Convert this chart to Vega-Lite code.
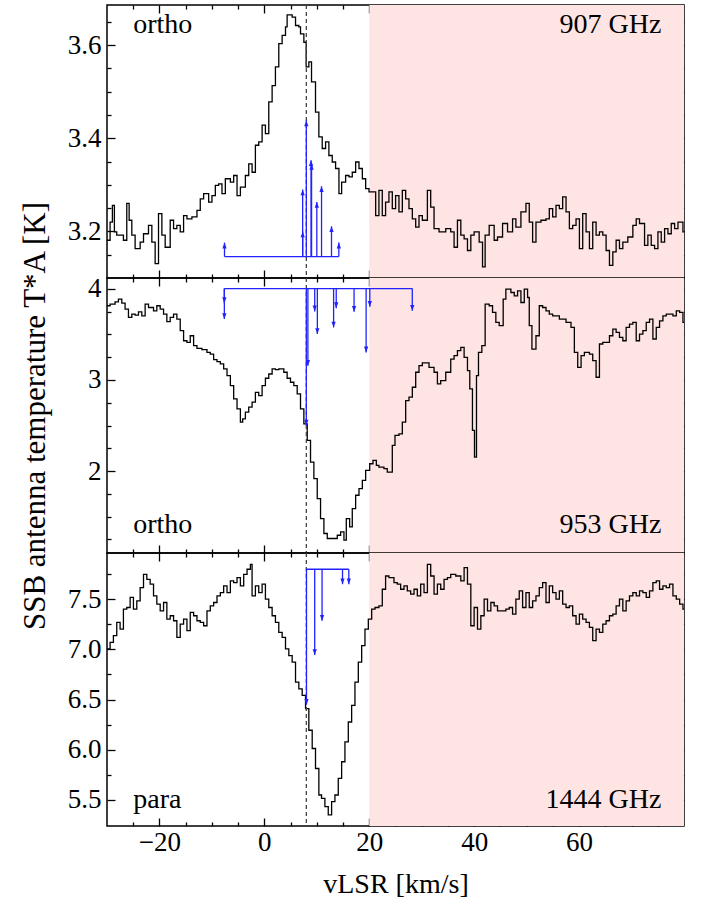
{
  "$schema": "https://vega.github.io/schema/vega-lite/v6.json",
  "padding": {"left": 18, "top": 3, "right": 5, "bottom": 5},
  "bounds": "flush",
  "config": {
    "font": "Liberation Serif",
    "view": {"stroke": "black", "strokeWidth": 1.5},
    "axis": {"domain": false, "grid": false, "tickColor": "black", "tickWidth": 1.3, "labelColor": "black", "labelFontSize": 27, "titleFontSize": 28, "titleFontWeight": "normal", "titleColor": "black", "labelOverlap": false, "labelFont": "Liberation Serif", "titleFont": "Liberation Serif"},
    "text": {"font": "Liberation Serif"}
  },
  "datasets": {
    "s907": [
      {"v": -30, "T": 3.181}, {"v": -29.41, "T": 3.22}, {"v": -28.97, "T": 3.256}, {"v": -28.59, "T": 3.199}, {"v": -28.14, "T": 3.192},
      {"v": -26.87, "T": 3.181}, {"v": -26.23, "T": 3.26}, {"v": -25.78, "T": 3.224}, {"v": -25.27, "T": 3.192}, {"v": -24.64, "T": 3.163},
      {"v": -23.68, "T": 3.177}, {"v": -23.04, "T": 3.195}, {"v": -22.09, "T": 3.213}, {"v": -21.45, "T": 3.177}, {"v": -20.82, "T": 3.131},
      {"v": -20.18, "T": 3.238}, {"v": -19.54, "T": 3.192}, {"v": -18.91, "T": 3.166}, {"v": -17.95, "T": 3.224}, {"v": -17.31, "T": 3.206},
      {"v": -16.68, "T": 3.213}, {"v": -16.04, "T": 3.199}, {"v": -15.4, "T": 3.234}, {"v": -14.76, "T": 3.227}, {"v": -13.81, "T": 3.231},
      {"v": -12.85, "T": 3.245}, {"v": -12.22, "T": 3.27}, {"v": -11.58, "T": 3.281}, {"v": -10.62, "T": 3.263}, {"v": -9.99, "T": 3.277},
      {"v": -9.35, "T": 3.299}, {"v": -8.71, "T": 3.302}, {"v": -8.08, "T": 3.281}, {"v": -7.44, "T": 3.313}, {"v": -6.48, "T": 3.306},
      {"v": -5.85, "T": 3.32}, {"v": -5.21, "T": 3.277}, {"v": -4.57, "T": 3.295}, {"v": -3.62, "T": 3.32}, {"v": -2.98, "T": 3.345},
      {"v": -2.34, "T": 3.327}, {"v": -1.71, "T": 3.385}, {"v": -1.07, "T": 3.392}, {"v": -0.43, "T": 3.428}, {"v": 0.2, "T": 3.41},
      {"v": 0.84, "T": 3.478}, {"v": 1.48, "T": 3.513}, {"v": 2.11, "T": 3.553}, {"v": 2.75, "T": 3.603}, {"v": 3.39, "T": 3.621},
      {"v": 4.03, "T": 3.639}, {"v": 4.34, "T": 3.665}, {"v": 5.3, "T": 3.66}, {"v": 5.94, "T": 3.642}, {"v": 6.57, "T": 3.639},
      {"v": 6.89, "T": 3.624}, {"v": 7.53, "T": 3.606}, {"v": 7.97, "T": 3.553}, {"v": 8.48, "T": 3.564}, {"v": 8.99, "T": 3.521},
      {"v": 9.75, "T": 3.456}, {"v": 10.39, "T": 3.403}, {"v": 11.03, "T": 3.378}, {"v": 11.67, "T": 3.392}, {"v": 12.3, "T": 3.363},
      {"v": 12.94, "T": 3.349}, {"v": 13.58, "T": 3.335}, {"v": 14.22, "T": 3.281}, {"v": 14.73, "T": 3.306}, {"v": 15.49, "T": 3.32},
      {"v": 16.13, "T": 3.317}, {"v": 16.76, "T": 3.327}, {"v": 17.4, "T": 3.349}, {"v": 18.04, "T": 3.335}, {"v": 18.68, "T": 3.313},
      {"v": 19.31, "T": 3.292}, {"v": 19.95, "T": 3.285}, {"v": 21.22, "T": 3.234}, {"v": 21.84, "T": 3.288}, {"v": 22.48, "T": 3.234},
      {"v": 23.11, "T": 3.263}, {"v": 23.75, "T": 3.285}, {"v": 24.39, "T": 3.249}, {"v": 25.02, "T": 3.277}, {"v": 25.66, "T": 3.242},
      {"v": 26.3, "T": 3.288}, {"v": 26.94, "T": 3.27}, {"v": 27.57, "T": 3.249}, {"v": 28.21, "T": 3.227}, {"v": 28.85, "T": 3.209},
      {"v": 29.48, "T": 3.234}, {"v": 30.12, "T": 3.224}, {"v": 31.08, "T": 3.288}, {"v": 31.71, "T": 3.252}, {"v": 32.35, "T": 3.206},
      {"v": 33.3, "T": 3.199}, {"v": 34.58, "T": 3.206}, {"v": 35.53, "T": 3.199}, {"v": 36.17, "T": 3.166}, {"v": 36.81, "T": 3.224},
      {"v": 37.45, "T": 3.192}, {"v": 38.08, "T": 3.184}, {"v": 38.72, "T": 3.159}, {"v": 39.36, "T": 3.192}, {"v": 39.99, "T": 3.199},
      {"v": 40.95, "T": 3.177}, {"v": 41.59, "T": 3.124}, {"v": 42.09, "T": 3.192}, {"v": 42.86, "T": 3.213}, {"v": 43.81, "T": 3.181},
      {"v": 44.45, "T": 3.188}, {"v": 45.41, "T": 3.217}, {"v": 46.36, "T": 3.199}, {"v": 47.32, "T": 3.227}, {"v": 47.95, "T": 3.209},
      {"v": 48.91, "T": 3.242}, {"v": 49.87, "T": 3.26}, {"v": 50.5, "T": 3.22}, {"v": 51.14, "T": 3.177}, {"v": 51.78, "T": 3.22},
      {"v": 52.73, "T": 3.224}, {"v": 53.69, "T": 3.227}, {"v": 54.32, "T": 3.249}, {"v": 54.96, "T": 3.231}, {"v": 55.6, "T": 3.256},
      {"v": 56.24, "T": 3.249}, {"v": 56.87, "T": 3.274}, {"v": 57.51, "T": 3.242}, {"v": 58.15, "T": 3.206}, {"v": 58.78, "T": 3.213},
      {"v": 59.42, "T": 3.227}, {"v": 60.06, "T": 3.163}, {"v": 60.69, "T": 3.238}, {"v": 61.33, "T": 3.199}, {"v": 61.97, "T": 3.163},
      {"v": 62.6, "T": 3.22}, {"v": 63.24, "T": 3.192}, {"v": 63.88, "T": 3.199}, {"v": 64.52, "T": 3.192}, {"v": 65.15, "T": 3.159},
      {"v": 65.79, "T": 3.127}, {"v": 66.43, "T": 3.156}, {"v": 67.06, "T": 3.181}, {"v": 67.7, "T": 3.163}, {"v": 68.34, "T": 3.177},
      {"v": 69.29, "T": 3.188}, {"v": 70.25, "T": 3.213}, {"v": 70.89, "T": 3.227}, {"v": 71.52, "T": 3.217}, {"v": 72.48, "T": 3.17},
      {"v": 73.11, "T": 3.192}, {"v": 73.75, "T": 3.17}, {"v": 74.39, "T": 3.163}, {"v": 75.03, "T": 3.199}, {"v": 75.66, "T": 3.177},
      {"v": 76.3, "T": 3.206}, {"v": 76.94, "T": 3.195}, {"v": 77.57, "T": 3.217}, {"v": 78.21, "T": 3.206}, {"v": 78.85, "T": 3.22},
      {"v": 79.8, "T": 3.199}, {"v": 80, "T": 3.199}
    ],
    "s953": [
      {"v": -30, "T": 3.815}, {"v": -29.41, "T": 3.833}, {"v": -28.46, "T": 3.858}, {"v": -27.82, "T": 3.888}, {"v": -27.18, "T": 3.844},
      {"v": -26.55, "T": 3.778}, {"v": -25.91, "T": 3.687}, {"v": -25.27, "T": 3.723}, {"v": -24.64, "T": 3.712}, {"v": -24.0, "T": 3.749},
      {"v": -23.36, "T": 3.705}, {"v": -22.73, "T": 3.833}, {"v": -22.09, "T": 3.796}, {"v": -21.13, "T": 3.76}, {"v": -20.5, "T": 3.815},
      {"v": -19.86, "T": 3.778}, {"v": -19.22, "T": 3.723}, {"v": -18.59, "T": 3.64}, {"v": -17.95, "T": 3.687}, {"v": -17.31, "T": 3.723},
      {"v": -16.68, "T": 3.669}, {"v": -16.04, "T": 3.541}, {"v": -15.4, "T": 3.431}, {"v": -14.76, "T": 3.413}, {"v": -14.13, "T": 3.486},
      {"v": -13.49, "T": 3.377}, {"v": -12.85, "T": 3.347}, {"v": -11.9, "T": 3.333}, {"v": -10.94, "T": 3.303}, {"v": -10.31, "T": 3.285},
      {"v": -9.67, "T": 3.223}, {"v": -9.03, "T": 3.201}, {"v": -8.39, "T": 3.176}, {"v": -7.76, "T": 3.121}, {"v": -7.12, "T": 3.048},
      {"v": -6.48, "T": 2.938}, {"v": -5.85, "T": 2.792}, {"v": -5.21, "T": 2.683}, {"v": -4.57, "T": 2.537}, {"v": -4.13, "T": 2.573},
      {"v": -3.62, "T": 2.646}, {"v": -2.98, "T": 2.701}, {"v": -2.34, "T": 2.756}, {"v": -1.71, "T": 2.865}, {"v": -1.07, "T": 2.829},
      {"v": -0.43, "T": 2.938}, {"v": 0.2, "T": 3.019}, {"v": 0.84, "T": 3.066}, {"v": 1.48, "T": 3.121}, {"v": 2.11, "T": 3.114},
      {"v": 2.75, "T": 3.121}, {"v": 3.71, "T": 3.085}, {"v": 4.34, "T": 3.019}, {"v": 4.98, "T": 2.975}, {"v": 5.62, "T": 2.938},
      {"v": 6.26, "T": 2.847}, {"v": 6.89, "T": 2.683}, {"v": 7.53, "T": 2.519}, {"v": 8.17, "T": 2.336}, {"v": 8.8, "T": 2.099},
      {"v": 9.44, "T": 1.916}, {"v": 10.08, "T": 1.697}, {"v": 10.71, "T": 1.478}, {"v": 11.35, "T": 1.314}, {"v": 11.99, "T": 1.259},
      {"v": 12.94, "T": 1.259}, {"v": 13.9, "T": 1.295}, {"v": 14.54, "T": 1.332}, {"v": 15.17, "T": 1.241}, {"v": 15.62, "T": 1.478},
      {"v": 16.26, "T": 1.387}, {"v": 16.76, "T": 1.588}, {"v": 17.4, "T": 1.734}, {"v": 18.04, "T": 1.807}, {"v": 18.68, "T": 1.898},
      {"v": 19.31, "T": 2.007}, {"v": 20.08, "T": 2.08}, {"v": 20.71, "T": 2.117}, {"v": 21.35, "T": 2.062}, {"v": 21.84, "T": 2.044},
      {"v": 22.8, "T": 2.026}, {"v": 23.43, "T": 1.989}, {"v": 24.39, "T": 2.281}, {"v": 24.9, "T": 2.391}, {"v": 25.66, "T": 2.409},
      {"v": 26.3, "T": 2.537}, {"v": 26.94, "T": 2.774}, {"v": 27.57, "T": 2.811}, {"v": 28.21, "T": 2.92}, {"v": 28.85, "T": 3.085},
      {"v": 29.48, "T": 3.157}, {"v": 30.12, "T": 3.187}, {"v": 31.39, "T": 3.139}, {"v": 32.35, "T": 3.085}, {"v": 32.99, "T": 2.957},
      {"v": 33.62, "T": 2.993}, {"v": 34.58, "T": 3.085}, {"v": 35.53, "T": 3.23}, {"v": 36.17, "T": 3.267}, {"v": 36.81, "T": 3.322},
      {"v": 37.45, "T": 3.358}, {"v": 38.08, "T": 3.249}, {"v": 38.72, "T": 3.103}, {"v": 39.16, "T": 2.902}, {"v": 39.67, "T": 2.446},
      {"v": 40.06, "T": 2.153}, {"v": 40.44, "T": 3.048}, {"v": 40.82, "T": 3.303}, {"v": 41.46, "T": 3.377}, {"v": 42.09, "T": 3.833},
      {"v": 42.86, "T": 3.815}, {"v": 43.5, "T": 3.742}, {"v": 44.13, "T": 3.632}, {"v": 44.77, "T": 3.596}, {"v": 45.53, "T": 3.888},
      {"v": 46.04, "T": 3.997}, {"v": 47.0, "T": 3.961}, {"v": 47.64, "T": 3.924}, {"v": 48.27, "T": 3.979}, {"v": 48.91, "T": 3.851},
      {"v": 49.55, "T": 3.997}, {"v": 50.18, "T": 3.906}, {"v": 50.5, "T": 3.596}, {"v": 51.01, "T": 3.34}, {"v": 51.78, "T": 3.486},
      {"v": 52.41, "T": 3.815}, {"v": 53.05, "T": 3.796}, {"v": 53.69, "T": 3.76}, {"v": 54.32, "T": 3.723}, {"v": 54.96, "T": 3.705},
      {"v": 56.24, "T": 3.669}, {"v": 57.51, "T": 3.632}, {"v": 58.46, "T": 3.577}, {"v": 59.1, "T": 3.303}, {"v": 59.74, "T": 3.139},
      {"v": 60.38, "T": 3.267}, {"v": 61.01, "T": 3.303}, {"v": 61.97, "T": 3.285}, {"v": 62.6, "T": 3.212}, {"v": 63.24, "T": 3.03},
      {"v": 63.88, "T": 3.395}, {"v": 64.52, "T": 3.413}, {"v": 65.79, "T": 3.486}, {"v": 66.43, "T": 3.559}, {"v": 67.06, "T": 3.523},
      {"v": 67.7, "T": 3.468}, {"v": 68.34, "T": 3.431}, {"v": 68.97, "T": 3.577}, {"v": 69.61, "T": 3.614}, {"v": 70.25, "T": 3.632},
      {"v": 70.89, "T": 3.431}, {"v": 71.52, "T": 3.504}, {"v": 72.16, "T": 3.541}, {"v": 72.8, "T": 3.632}, {"v": 73.43, "T": 3.669},
      {"v": 74.07, "T": 3.45}, {"v": 74.71, "T": 3.577}, {"v": 75.34, "T": 3.65}, {"v": 75.98, "T": 3.705}, {"v": 76.62, "T": 3.723},
      {"v": 77.89, "T": 3.705}, {"v": 78.53, "T": 3.76}, {"v": 79.17, "T": 3.742}, {"v": 79.8, "T": 3.632}, {"v": 80, "T": 3.632}
    ],
    "s1444": [
      {"v": -30, "T": 7.004}, {"v": -29.41, "T": 7.07}, {"v": -28.78, "T": 7.136}, {"v": -28.14, "T": 7.269}, {"v": -27.5, "T": 7.202},
      {"v": -26.87, "T": 7.401}, {"v": -26.23, "T": 7.417}, {"v": -25.59, "T": 7.517}, {"v": -24.96, "T": 7.401}, {"v": -24.32, "T": 7.483},
      {"v": -23.68, "T": 7.616}, {"v": -23.04, "T": 7.748}, {"v": -22.41, "T": 7.698}, {"v": -21.77, "T": 7.649}, {"v": -21.13, "T": 7.533},
      {"v": -20.5, "T": 7.45}, {"v": -19.86, "T": 7.384}, {"v": -19.22, "T": 7.467}, {"v": -18.59, "T": 7.302}, {"v": -17.95, "T": 7.335},
      {"v": -17.31, "T": 7.285}, {"v": -16.68, "T": 7.12}, {"v": -16.04, "T": 7.252}, {"v": -15.4, "T": 7.302}, {"v": -14.76, "T": 7.186},
      {"v": -14.13, "T": 7.368}, {"v": -13.49, "T": 7.335}, {"v": -12.85, "T": 7.285}, {"v": -12.22, "T": 7.269}, {"v": -11.58, "T": 7.235},
      {"v": -10.94, "T": 7.384}, {"v": -10.31, "T": 7.434}, {"v": -9.67, "T": 7.467}, {"v": -9.03, "T": 7.533}, {"v": -8.39, "T": 7.566},
      {"v": -7.76, "T": 7.632}, {"v": -7.12, "T": 7.566}, {"v": -6.48, "T": 7.682}, {"v": -5.85, "T": 7.665}, {"v": -5.21, "T": 7.715},
      {"v": -4.57, "T": 7.632}, {"v": -3.94, "T": 7.748}, {"v": -3.3, "T": 7.798}, {"v": -2.66, "T": 7.847}, {"v": -2.34, "T": 7.533},
      {"v": -1.71, "T": 7.632}, {"v": -1.07, "T": 7.566}, {"v": -0.43, "T": 7.649}, {"v": 0.2, "T": 7.5}, {"v": 0.84, "T": 7.417},
      {"v": 1.48, "T": 7.335}, {"v": 2.11, "T": 7.269}, {"v": 2.75, "T": 7.169}, {"v": 3.39, "T": 7.12}, {"v": 4.03, "T": 7.004},
      {"v": 4.66, "T": 6.938}, {"v": 5.3, "T": 6.872}, {"v": 5.94, "T": 6.673}, {"v": 6.57, "T": 6.607}, {"v": 7.21, "T": 6.541},
      {"v": 7.85, "T": 6.409}, {"v": 8.48, "T": 6.194}, {"v": 9.12, "T": 6.012}, {"v": 9.75, "T": 5.813}, {"v": 10.39, "T": 5.549},
      {"v": 10.9, "T": 5.516}, {"v": 11.54, "T": 5.433}, {"v": 12.18, "T": 5.35}, {"v": 12.82, "T": 5.483}, {"v": 13.45, "T": 5.549},
      {"v": 14.09, "T": 5.714}, {"v": 14.73, "T": 5.88}, {"v": 15.36, "T": 6.078}, {"v": 16.0, "T": 6.276}, {"v": 16.64, "T": 6.442},
      {"v": 17.27, "T": 6.673}, {"v": 17.91, "T": 6.872}, {"v": 18.55, "T": 7.037}, {"v": 19.18, "T": 7.202}, {"v": 19.82, "T": 7.302},
      {"v": 20.46, "T": 7.401}, {"v": 21.1, "T": 7.417}, {"v": 21.84, "T": 7.434}, {"v": 22.48, "T": 7.599}, {"v": 23.11, "T": 7.731},
      {"v": 23.75, "T": 7.715}, {"v": 24.71, "T": 7.665}, {"v": 25.34, "T": 7.649}, {"v": 25.98, "T": 7.599}, {"v": 26.62, "T": 7.632},
      {"v": 27.25, "T": 7.583}, {"v": 27.89, "T": 7.55}, {"v": 28.53, "T": 7.599}, {"v": 29.16, "T": 7.533}, {"v": 29.8, "T": 7.649},
      {"v": 30.44, "T": 7.566}, {"v": 31.08, "T": 7.847}, {"v": 31.71, "T": 7.731}, {"v": 32.35, "T": 7.55}, {"v": 32.99, "T": 7.649},
      {"v": 33.62, "T": 7.599}, {"v": 34.26, "T": 7.698}, {"v": 34.9, "T": 7.715}, {"v": 35.53, "T": 7.748}, {"v": 36.49, "T": 7.731},
      {"v": 37.45, "T": 7.682}, {"v": 38.08, "T": 7.814}, {"v": 38.72, "T": 7.649}, {"v": 39.36, "T": 7.235}, {"v": 39.99, "T": 7.417},
      {"v": 40.63, "T": 7.202}, {"v": 41.27, "T": 7.335}, {"v": 41.9, "T": 7.5}, {"v": 42.54, "T": 7.384}, {"v": 43.18, "T": 7.467},
      {"v": 43.81, "T": 7.434}, {"v": 44.45, "T": 7.384}, {"v": 46.04, "T": 7.401}, {"v": 46.68, "T": 7.417}, {"v": 47.32, "T": 7.351},
      {"v": 47.95, "T": 7.5}, {"v": 48.59, "T": 7.583}, {"v": 49.23, "T": 7.417}, {"v": 49.87, "T": 7.566}, {"v": 50.5, "T": 7.417},
      {"v": 51.14, "T": 7.483}, {"v": 51.78, "T": 7.533}, {"v": 52.41, "T": 7.616}, {"v": 53.05, "T": 7.665}, {"v": 53.69, "T": 7.467},
      {"v": 54.32, "T": 7.632}, {"v": 54.96, "T": 7.566}, {"v": 55.6, "T": 7.5}, {"v": 56.24, "T": 7.583}, {"v": 56.87, "T": 7.45},
      {"v": 57.51, "T": 7.417}, {"v": 58.15, "T": 7.434}, {"v": 58.78, "T": 7.335}, {"v": 59.42, "T": 7.252}, {"v": 60.06, "T": 7.351},
      {"v": 60.69, "T": 7.302}, {"v": 61.33, "T": 7.269}, {"v": 61.97, "T": 7.219}, {"v": 62.6, "T": 7.087}, {"v": 63.24, "T": 7.202},
      {"v": 63.88, "T": 7.169}, {"v": 64.52, "T": 7.252}, {"v": 65.15, "T": 7.285}, {"v": 65.79, "T": 7.335}, {"v": 66.43, "T": 7.351},
      {"v": 67.06, "T": 7.434}, {"v": 67.7, "T": 7.5}, {"v": 68.34, "T": 7.384}, {"v": 68.97, "T": 7.483}, {"v": 69.61, "T": 7.533},
      {"v": 70.25, "T": 7.566}, {"v": 70.89, "T": 7.533}, {"v": 71.52, "T": 7.583}, {"v": 72.16, "T": 7.566}, {"v": 72.8, "T": 7.517},
      {"v": 73.43, "T": 7.583}, {"v": 74.07, "T": 7.665}, {"v": 74.71, "T": 7.682}, {"v": 75.34, "T": 7.599}, {"v": 75.98, "T": 7.632},
      {"v": 76.62, "T": 7.616}, {"v": 77.25, "T": 7.649}, {"v": 77.89, "T": 7.533}, {"v": 78.53, "T": 7.5}, {"v": 79.17, "T": 7.45},
      {"v": 79.8, "T": 7.401}, {"v": 80, "T": 7.401}
    ],
    "h907": [
      {"v": -7.6, "top": 3.176, "base": 3.146}, {"v": 7.3, "top": 3.29, "base": 3.146}, {"v": 7.3, "top": 3.2, "base": 3.146},
      {"v": 8.0, "top": 3.438, "base": 3.146}, {"v": 8.9, "top": 3.353, "base": 3.146}, {"v": 9.0, "top": 3.345, "base": 3.146},
      {"v": 10.0, "top": 3.263, "base": 3.146}, {"v": 10.9, "top": 3.297, "base": 3.146}, {"v": 12.8, "top": 3.211, "base": 3.146},
      {"v": 14.2, "top": 3.176, "base": 3.146}
    ],
    "h953": [
      {"v": -7.63, "top": 3.844, "base": 4.004}, {"v": -7.63, "top": 3.669, "base": 4.004}, {"v": 8.0, "top": 2.5, "base": 4.004},
      {"v": 8.3, "top": 3.157, "base": 4.004}, {"v": 9.6, "top": 3.753, "base": 4.004}, {"v": 10.1, "top": 3.504, "base": 4.004},
      {"v": 13.2, "top": 3.577, "base": 4.004}, {"v": 13.7, "top": 3.789, "base": 4.004}, {"v": 17.1, "top": 3.749, "base": 4.004},
      {"v": 19.4, "top": 3.303, "base": 4.004}, {"v": 20.1, "top": 3.804, "base": 4.004}, {"v": 28.2, "top": 3.76, "base": 4.004}
    ],
    "h1444": [
      {"v": 8.03, "top": 6.448, "base": 7.798}, {"v": 9.6, "top": 6.944, "base": 7.798}, {"v": 11.0, "top": 7.285, "base": 7.798},
      {"v": 14.9, "top": 7.649, "base": 7.798}, {"v": 16.1, "top": 7.649, "base": 7.798}
    ]
  },
  "spacing": 0,
  "vconcat": [
    {
      "width": 577, "height": 273,
      "resolve": {"axis": {"x": "independent", "y": "independent"}},
      "layer": [
        {
          "data": {"values": [{}]},
          "mark": {"type": "rect", "color": "#fee4e2"},
          "encoding": {
            "x": {"datum": 20, "type": "quantitative", "scale": {"domain": [-30, 80], "nice": false, "zero": false},
              "axis": {"orient": "bottom", "values": [-25,-20,-15,-10,-5,0,5,10,15,20,25,30,35,40,45,50,55,60,65,70,75], "tickSize": {"condition": {"test": "datum.value % 20 === 0", "value": -8}, "value": -4}, "labels": false, "title": null}},
            "x2": {"datum": 80},
            "y": {"datum": 3.1, "type": "quantitative", "scale": {"domain": [3.1, 3.686], "nice": false, "zero": false},
              "axis": {"orient": "left", "values": [3.15,3.2,3.25,3.3,3.35,3.4,3.45,3.5,3.55,3.6,3.65], "tickSize": {"condition": {"test": "round(datum.value*100) % 20 === 0", "value": -8}, "value": -4}, "labelExpr": "round(datum.value*100) % 20 === 0 ? format(datum.value, '.1f') : ''", "labelPadding": 14, "title": null}},
            "y2": {"datum": 3.686}
          }
        },
        {
          "data": {"name": "s907"},
          "mark": {"type": "line", "interpolate": "step-after", "color": "black", "strokeWidth": 1.3, "clip": true},
          "encoding": {
            "x": {"field": "v", "type": "quantitative", "scale": {"domain": [-30, 80], "nice": false, "zero": false},
              "axis": {"orient": "top", "values": [-25,-20,-15,-10,-5,0,5,10,15,20,25,30,35,40,45,50,55,60,65,70,75], "tickSize": {"condition": {"test": "datum.value % 20 === 0", "value": -8}, "value": -4}, "labels": false, "title": null}},
            "y": {"field": "T", "type": "quantitative", "scale": {"domain": [3.1, 3.686], "nice": false, "zero": false},
              "axis": {"orient": "right", "values": [3.15,3.2,3.25,3.3,3.35,3.4,3.45,3.5,3.55,3.6,3.65], "tickSize": {"condition": {"test": "round(datum.value*100) % 20 === 0", "value": -8}, "value": -4}, "labels": false, "title": null}}
          }
        },
        {
          "data": {"values": [{}]},
          "mark": {"type": "rule", "color": "#444444", "strokeWidth": 1.3, "strokeDash": [4, 3]},
          "encoding": {"x": {"datum": 8, "type": "quantitative", "axis": null}}
        },
        {
          "data": {"name": "h907"},
          "mark": {"type": "rule", "color": "#2222ff", "strokeWidth": 1.3},
          "encoding": {
            "x": {"aggregate": "min", "field": "v", "type": "quantitative", "axis": null},
            "x2": {"aggregate": "max", "field": "v"},
            "y": {"aggregate": "mean", "field": "base", "type": "quantitative", "axis": null}
          }
        },
        {
          "data": {"name": "h907"},
          "mark": {"type": "rule", "color": "#2222ff", "strokeWidth": 1.3},
          "encoding": {
            "x": {"field": "v", "type": "quantitative", "axis": null},
            "y": {"field": "base", "type": "quantitative", "axis": null},
            "y2": {"field": "top"}
          }
        },
        {
          "data": {"name": "h907"},
          "mark": {"type": "point", "shape": "M0,0L-0.55,1.5L0.55,1.5Z", "filled": true, "color": "#2222ff", "opacity": 1, "size": 60},
          "encoding": {
            "x": {"field": "v", "type": "quantitative", "axis": null},
            "y": {"field": "top", "type": "quantitative", "axis": null}
          }
        },
        {
          "data": {"values": [{}]},
          "mark": {"type": "text", "align": "left", "baseline": "alphabetic", "fontSize": 28, "color": "black", "text": "ortho"},
          "encoding": {"x": {"datum": -25, "type": "quantitative", "axis": null}, "y": {"datum": 3.625, "type": "quantitative", "axis": null}}
        },
        {
          "data": {"values": [{}]},
          "mark": {"type": "text", "align": "right", "baseline": "alphabetic", "fontSize": 28, "color": "black", "text": "907 GHz"},
          "encoding": {"x": {"datum": 75.7, "type": "quantitative", "axis": null}, "y": {"datum": 3.625, "type": "quantitative", "axis": null}}
        }
      ]
    },
    {
      "width": 577, "height": 275,
      "resolve": {"axis": {"x": "independent", "y": "independent"}},
      "layer": [
        {
          "data": {"values": [{}]},
          "mark": {"type": "rect", "color": "#fee4e2"},
          "encoding": {
            "x": {"datum": 20, "type": "quantitative", "scale": {"domain": [-30, 80], "nice": false, "zero": false},
              "axis": {"orient": "bottom", "values": [-25,-20,-15,-10,-5,0,5,10,15,20,25,30,35,40,45,50,55,60,65,70,75], "tickSize": {"condition": {"test": "datum.value % 20 === 0", "value": -8}, "value": -4}, "labels": false, "title": null}},
            "x2": {"datum": 80},
            "y": {"datum": 1.1, "type": "quantitative", "scale": {"domain": [1.1, 4.12], "nice": false, "zero": false},
              "axis": {"orient": "left", "values": [1.25,1.5,1.75,2,2.25,2.5,2.75,3,3.25,3.5,3.75,4], "tickSize": {"condition": {"test": "datum.value % 1 === 0", "value": -8}, "value": -4}, "labelExpr": "datum.value % 1 === 0 ? format(datum.value, 'd') : ''", "labelPadding": 14, "title": "SSB antenna temperature T*A [K]", "titleFontSize": 31, "titlePadding": 36}},
            "y2": {"datum": 4.12}
          }
        },
        {
          "data": {"name": "s953"},
          "mark": {"type": "line", "interpolate": "step-after", "color": "black", "strokeWidth": 1.3, "clip": true},
          "encoding": {
            "x": {"field": "v", "type": "quantitative", "scale": {"domain": [-30, 80], "nice": false, "zero": false},
              "axis": {"orient": "top", "values": [-25,-20,-15,-10,-5,0,5,10,15,20,25,30,35,40,45,50,55,60,65,70,75], "tickSize": {"condition": {"test": "datum.value % 20 === 0", "value": -8}, "value": -4}, "labels": false, "title": null}},
            "y": {"field": "T", "type": "quantitative", "scale": {"domain": [1.1, 4.12], "nice": false, "zero": false},
              "axis": {"orient": "right", "values": [1.25,1.5,1.75,2,2.25,2.5,2.75,3,3.25,3.5,3.75,4], "tickSize": {"condition": {"test": "datum.value % 1 === 0", "value": -8}, "value": -4}, "labels": false, "title": null}}
          }
        },
        {
          "data": {"values": [{}]},
          "mark": {"type": "rule", "color": "#444444", "strokeWidth": 1.3, "strokeDash": [4, 3]},
          "encoding": {"x": {"datum": 8, "type": "quantitative", "axis": null}}
        },
        {
          "data": {"name": "h953"},
          "mark": {"type": "rule", "color": "#2222ff", "strokeWidth": 1.3},
          "encoding": {
            "x": {"aggregate": "min", "field": "v", "type": "quantitative", "axis": null},
            "x2": {"aggregate": "max", "field": "v"},
            "y": {"aggregate": "mean", "field": "base", "type": "quantitative", "axis": null}
          }
        },
        {
          "data": {"name": "h953"},
          "mark": {"type": "rule", "color": "#2222ff", "strokeWidth": 1.3},
          "encoding": {
            "x": {"field": "v", "type": "quantitative", "axis": null},
            "y": {"field": "base", "type": "quantitative", "axis": null},
            "y2": {"field": "top"}
          }
        },
        {
          "data": {"name": "h953"},
          "mark": {"type": "point", "shape": "M0,0L-0.55,-1.5L0.55,-1.5Z", "filled": true, "color": "#2222ff", "opacity": 1, "size": 60},
          "encoding": {
            "x": {"field": "v", "type": "quantitative", "axis": null},
            "y": {"field": "top", "type": "quantitative", "axis": null}
          }
        },
        {
          "data": {"values": [{}]},
          "mark": {"type": "text", "align": "left", "baseline": "alphabetic", "fontSize": 28, "color": "black", "text": "ortho"},
          "encoding": {"x": {"datum": -25, "type": "quantitative", "axis": null}, "y": {"datum": 1.318, "type": "quantitative", "axis": null}}
        },
        {
          "data": {"values": [{}]},
          "mark": {"type": "text", "align": "right", "baseline": "alphabetic", "fontSize": 28, "color": "black", "text": "953 GHz"},
          "encoding": {"x": {"datum": 75.7, "type": "quantitative", "axis": null}, "y": {"datum": 1.318, "type": "quantitative", "axis": null}}
        }
      ]
    },
    {
      "width": 577, "height": 273,
      "resolve": {"axis": {"x": "independent", "y": "independent"}},
      "layer": [
        {
          "data": {"values": [{}]},
          "mark": {"type": "rect", "color": "#fee4e2"},
          "encoding": {
            "x": {"datum": 20, "type": "quantitative", "scale": {"domain": [-30, 80], "nice": false, "zero": false},
              "axis": {"orient": "bottom", "values": [-25,-20,-15,-10,-5,0,5,10,15,20,25,30,35,40,45,50,55,60,65,70,75], "tickSize": {"condition": {"test": "datum.value % 20 === 0", "value": -8}, "value": -4}, "labelExpr": "datum.value % 20 === 0 ? datum.label : ''", "labelPadding": 11, "title": "vLSR [km/s]", "titlePadding": 11}},
            "x2": {"datum": 80},
            "y": {"datum": 5.24, "type": "quantitative", "scale": {"domain": [5.24, 7.96], "nice": false, "zero": false},
              "axis": {"orient": "left", "values": [5.5,5.75,6,6.25,6.5,6.75,7,7.25,7.5,7.75], "tickSize": {"condition": {"test": "datum.value % 0.5 === 0", "value": -8}, "value": -4}, "labelExpr": "datum.value % 0.5 === 0 ? format(datum.value, '.1f') : ''", "labelPadding": 14, "title": null}},
            "y2": {"datum": 7.96}
          }
        },
        {
          "data": {"name": "s1444"},
          "mark": {"type": "line", "interpolate": "step-after", "color": "black", "strokeWidth": 1.3, "clip": true},
          "encoding": {
            "x": {"field": "v", "type": "quantitative", "scale": {"domain": [-30, 80], "nice": false, "zero": false},
              "axis": {"orient": "top", "values": [-25,-20,-15,-10,-5,0,5,10,15,20,25,30,35,40,45,50,55,60,65,70,75], "tickSize": {"condition": {"test": "datum.value % 20 === 0", "value": -8}, "value": -4}, "labels": false, "title": null}},
            "y": {"field": "T", "type": "quantitative", "scale": {"domain": [5.24, 7.96], "nice": false, "zero": false},
              "axis": {"orient": "right", "values": [5.5,5.75,6,6.25,6.5,6.75,7,7.25,7.5,7.75], "tickSize": {"condition": {"test": "datum.value % 0.5 === 0", "value": -8}, "value": -4}, "labels": false, "title": null}}
          }
        },
        {
          "data": {"values": [{}]},
          "mark": {"type": "rule", "color": "#444444", "strokeWidth": 1.3, "strokeDash": [4, 3]},
          "encoding": {"x": {"datum": 8, "type": "quantitative", "axis": null}}
        },
        {
          "data": {"name": "h1444"},
          "mark": {"type": "rule", "color": "#2222ff", "strokeWidth": 1.3},
          "encoding": {
            "x": {"aggregate": "min", "field": "v", "type": "quantitative", "axis": null},
            "x2": {"aggregate": "max", "field": "v"},
            "y": {"aggregate": "mean", "field": "base", "type": "quantitative", "axis": null}
          }
        },
        {
          "data": {"name": "h1444"},
          "mark": {"type": "rule", "color": "#2222ff", "strokeWidth": 1.3},
          "encoding": {
            "x": {"field": "v", "type": "quantitative", "axis": null},
            "y": {"field": "base", "type": "quantitative", "axis": null},
            "y2": {"field": "top"}
          }
        },
        {
          "data": {"name": "h1444"},
          "mark": {"type": "point", "shape": "M0,0L-0.55,-1.5L0.55,-1.5Z", "filled": true, "color": "#2222ff", "opacity": 1, "size": 60},
          "encoding": {
            "x": {"field": "v", "type": "quantitative", "axis": null},
            "y": {"field": "top", "type": "quantitative", "axis": null}
          }
        },
        {
          "data": {"values": [{}]},
          "mark": {"type": "text", "align": "left", "baseline": "alphabetic", "fontSize": 28, "color": "black", "text": "para"},
          "encoding": {"x": {"datum": -25, "type": "quantitative", "axis": null}, "y": {"datum": 5.417, "type": "quantitative", "axis": null}}
        },
        {
          "data": {"values": [{}]},
          "mark": {"type": "text", "align": "right", "baseline": "alphabetic", "fontSize": 28, "color": "black", "text": "1444 GHz"},
          "encoding": {"x": {"datum": 75.7, "type": "quantitative", "axis": null}, "y": {"datum": 5.417, "type": "quantitative", "axis": null}}
        }
      ]
    }
  ]
}
